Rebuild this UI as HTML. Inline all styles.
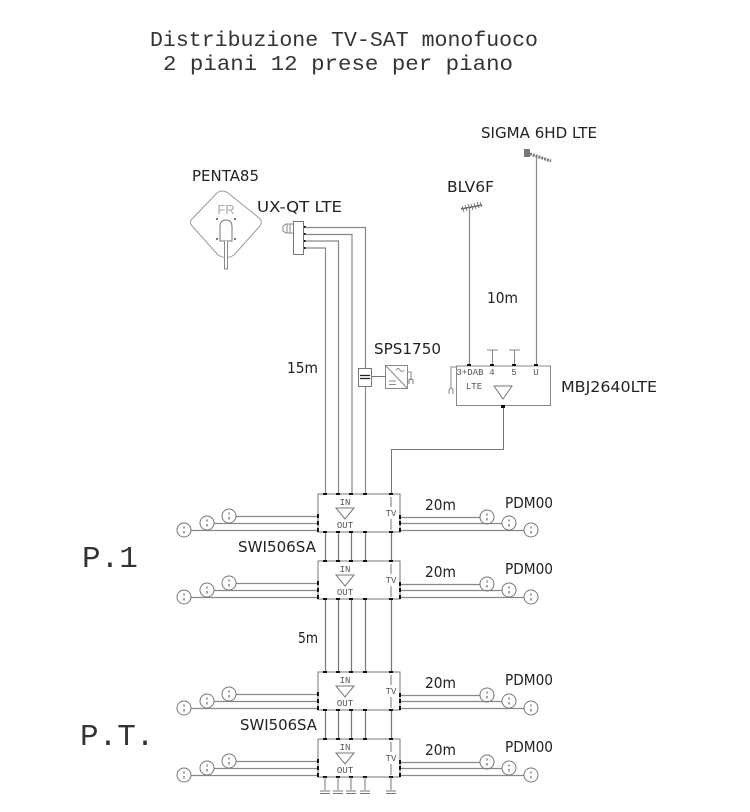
<!DOCTYPE html>
<html><head><meta charset="utf-8"><style>
html,body{margin:0;padding:0;background:#fff;width:750px;height:812px;overflow:hidden}
svg{display:block;filter:blur(0.3px)}
.m{font-family:"Liberation Mono",monospace;fill:#333}
.s{font-family:"DejaVu Sans","Liberation Sans",sans-serif;fill:#222;font-size:15.5px}
.t{font-family:"Liberation Mono",monospace;fill:#555;font-size:9px;text-anchor:middle}
</style></head><body>
<svg width="750" height="812" viewBox="0 0 750 812" xmlns="http://www.w3.org/2000/svg">
<defs>
<g id="o" fill="none" stroke="#777" stroke-width="1">
<circle r="7"/><path d="M0-3.500V-1.500M0 1V3.500" stroke="#666" stroke-width="1.2"/>
</g>
<g id="sw">
<rect x="318" y="0" width="82" height="38" fill="#fff" stroke="#777"/>
<path d="M336 14H354L345 25Z" fill="none" stroke="#777"/>
<path d="M391 3V13M391 25V36" stroke="#777" fill="none"/>
<path d="M323 -1h4v2h-4zM336 -1h4v2h-4zM349 -1h4v2h-4zM363 -1h4v2h-4zM389 -1h4v2h-4zM323 37h4v2h-4zM336 37h4v2h-4zM349 37h4v2h-4zM363 37h4v2h-4zM389 37h4v2h-4z" fill="#111"/>
<path d="M317 20h2v4h-2zM317 27h2v4h-2zM317 34h2v4h-2zM399 21h2v4h-2zM399 27h2v4h-2zM399 34h2v4h-2z" fill="#111"/>
<path d="M236 22.500H317M214 29.500H317M191 36.500H317M401 23.500H480M401 29.500H502M401 36.500H524" stroke="#888" stroke-width="1.3" fill="none"/>
<use href="#o" x="229" y="22"/><use href="#o" x="207" y="29"/><use href="#o" x="184" y="36"/>
<use href="#o" x="487" y="23"/><use href="#o" x="509" y="29"/><use href="#o" x="531" y="36"/>
</g>
<g id="gnd" stroke="#777" fill="none"><path d="M0 0V13M-5 14H5M-5 16.500H5"/></g>
</defs>

<text class="m" x="150" y="46" font-size="21.500" textLength="388" lengthAdjust="spacingAndGlyphs">Distribuzione TV-SAT monofuoco</text>
<text class="m" x="163" y="70" font-size="21.500" textLength="350" lengthAdjust="spacingAndGlyphs">2 piani 12 prese per piano</text>
<text class="m" x="82" y="567" font-size="31">P.1</text>
<text class="m" x="80" y="745" font-size="31">P.T.</text>

<text class="s" x="192" y="181" textLength="67" lengthAdjust="spacingAndGlyphs">PENTA85</text>
<text class="s" x="257" y="212" textLength="85" lengthAdjust="spacingAndGlyphs">UX-QT LTE</text>
<text class="s" x="481" y="138" textLength="116" lengthAdjust="spacingAndGlyphs">SIGMA 6HD LTE</text>
<text class="s" x="447" y="192" textLength="47" lengthAdjust="spacingAndGlyphs">BLV6F</text>
<text class="s" x="487" y="303" textLength="31" lengthAdjust="spacingAndGlyphs">10m</text>
<text class="s" x="287" y="373" textLength="31" lengthAdjust="spacingAndGlyphs">15m</text>
<text class="s" x="374" y="354" textLength="67" lengthAdjust="spacingAndGlyphs">SPS1750</text>
<text class="s" x="561" y="392" textLength="96" lengthAdjust="spacingAndGlyphs">MBJ2640LTE</text>
<text class="s" x="238" y="552" textLength="78" lengthAdjust="spacingAndGlyphs">SWI506SA</text>
<text class="s" x="240" y="730" textLength="77" lengthAdjust="spacingAndGlyphs">SWI506SA</text>
<text class="s" x="298" y="643" textLength="20" lengthAdjust="spacingAndGlyphs">5m</text>
<text class="s" x="425" y="510" textLength="31" lengthAdjust="spacingAndGlyphs">20m</text>
<text class="s" x="425" y="577" textLength="31" lengthAdjust="spacingAndGlyphs">20m</text>
<text class="s" x="425" y="688" textLength="31" lengthAdjust="spacingAndGlyphs">20m</text>
<text class="s" x="425" y="755" textLength="31" lengthAdjust="spacingAndGlyphs">20m</text>
<text class="s" x="505" y="508" textLength="48" lengthAdjust="spacingAndGlyphs">PDM00</text>
<text class="s" x="505" y="574" textLength="48" lengthAdjust="spacingAndGlyphs">PDM00</text>
<text class="s" x="505" y="685" textLength="48" lengthAdjust="spacingAndGlyphs">PDM00</text>
<text class="s" x="505" y="752" textLength="48" lengthAdjust="spacingAndGlyphs">PDM00</text>

<!-- dish -->
<path d="M217 193Q222 189 228 193L258 217Q264 222 259 227L234 255Q226 260 218 255L193 227Q188 222 193 218Z" fill="#fff" stroke="#999"/>
<text x="226" y="214" font-family="'Liberation Sans',sans-serif" font-size="13" fill="#aaa" text-anchor="middle">FR</text>
<path d="M220 241V227Q220 220 226 220Q232 220 232 227V241Z" fill="#fff" stroke="#777"/>
<path d="M224.500 241V269H227.500V241" fill="#fff" stroke="#888"/>
<path d="M216 218h2v2h-2zM234 218h2v2h-2zM216 238h2v2h-2zM234 238h2v2h-2z" fill="#777"/>

<!-- LNB -->
<rect x="293.500" y="221.500" width="10" height="33" fill="#fff" stroke="#777"/>
<path d="M293 224H286L283 226V231L286 233H293" fill="#fff" stroke="#888"/>
<path d="M287 224V233M290 224V233" stroke="#888"/>
<path d="M304 226h2v2h-2zM304 233h2v2h-2zM304 240h2v2h-2zM304 247h2v2h-2z" fill="#111"/>
<g fill="none" stroke="#888" stroke-width="1.200">
<path d="M305 227.500H365.500V494"/>
<path d="M305 234.500H352V494"/>
<path d="M305 241H338.500V494"/>
<path d="M305 248H325.500V494"/>
</g>

<!-- antennas -->
<path d="M469.500 210V366M536.500 157V366" stroke="#888" stroke-width="1.200" fill="none"/>
<path d="M461 209L482 205" stroke="#666" stroke-width="1.400"/>
<path d="M462 206l2 6M465 205l2 6M468 204l2 6M471 204l2 6M474 203l2 6M477 202l2 6M480 202l2 5" stroke="#777"/>
<path d="M527 153L551 161" stroke="#777" stroke-width="3" stroke-dasharray="2 1"/>
<path d="M524 149h6v8h-6z" fill="#777"/>

<!-- SPS -->
<rect x="358.500" y="368.500" width="13" height="18" fill="#fff" stroke="#777"/>
<path d="M360 375.500H370M360 378.500H370" stroke="#222" stroke-width="1.200"/>
<path d="M372 376.500H385" stroke="#777"/>
<rect x="385.500" y="365.500" width="22" height="23" fill="#fff" stroke="#888"/>
<path d="M385.500 365.500L407.500 388.500M396 370q2-3 4 0t4 0M389 381H396M389 384.500H396M408 372H411V380" fill="none" stroke="#888"/>
<path d="M409 384V380Q411 378 413 380V384" fill="none" stroke="#777"/>

<!-- MBJ -->
<rect x="456.500" y="366" width="94" height="39.500" fill="#fff" stroke="#888"/>
<path d="M492.500 366V350M487 350H498M514.500 366V350M509 350H520" stroke="#888" fill="none"/>
<path d="M467 364h4v2h-4zM490 364h4v2h-4zM512 364h4v2h-4zM534 364h4v2h-4zM501 405h4v3h-4z" fill="#111"/>
<text class="t" x="470" y="375">3+DAB</text>
<text class="t" x="492" y="375">4</text>
<text class="t" x="514" y="375">5</text>
<text class="t" x="536" y="375">U</text>
<text class="t" x="474" y="389">LTE</text>
<path d="M494 386H512L503 399Z" fill="none" stroke="#777"/>
<path d="M456 367H451V388M449 394V390Q451 386 453 390V394" fill="none" stroke="#888"/>
<path d="M503.500 408V449.500H391.500V494" fill="none" stroke="#777"/>

<!-- risers -->
<g stroke="#777" stroke-width="1.200" fill="none">
<path d="M325.500 532V561M338.500 532V561M351.500 532V561M365.500 532V561M391.500 532V561"/>
<path d="M325.500 599V672M338.500 599V672M351.500 599V672M365.500 599V672M391.500 599V672"/>
<path d="M325.500 711V739M338.500 711V739M351.500 711V739M365.500 711V739M391.500 711V739"/>
</g>

<!-- switches -->
<use href="#sw" y="494"/><use href="#sw" y="561"/><use href="#sw" y="672"/><use href="#sw" y="739"/>
<text class="t" x="345" y="505">IN</text><text class="t" x="345" y="528">OUT</text><text class="t" x="391" y="516">TV</text>
<text class="t" x="345" y="572">IN</text><text class="t" x="345" y="595">OUT</text><text class="t" x="391" y="583">TV</text>
<text class="t" x="345" y="683">IN</text><text class="t" x="345" y="706">OUT</text><text class="t" x="391" y="694">TV</text>
<text class="t" x="345" y="750">IN</text><text class="t" x="345" y="773">OUT</text><text class="t" x="391" y="761">TV</text>

<use href="#gnd" x="325" y="777"/><use href="#gnd" x="338" y="777"/><use href="#gnd" x="351" y="777"/><use href="#gnd" x="365" y="777"/><use href="#gnd" x="391" y="777"/>
</svg>
</body></html>
